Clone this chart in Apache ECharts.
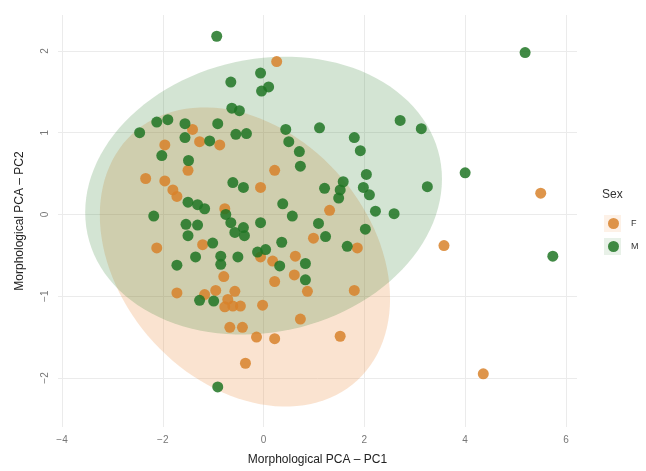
<!DOCTYPE html>
<html>
<head>
<meta charset="utf-8">
<title>Morphological PCA</title>
<script src="https://cdn.jsdelivr.net/npm/echarts@6/dist/echarts.min.js"></script>
<style>
html, body { margin: 0; padding: 0; background: #fff; }
#chart { width: 646px; height: 471px; }
</style>
</head>
<body>
<div id="chart"></div>
<script>
const xTicks = [-4, -2, 0, 2, 4, 6];
const yTicks = [-2, -1, 0, 1, 2];
const sexes = ['F', 'M'];

// [PC1, PC2]
const pointsF = [
  [0.26, 1.87], [-1.41, 1.04], [-1.27, 0.89], [-0.87, 0.85], [-1.96, 0.85],
  [-1.50, 0.54], [0.22, 0.54], [-2.34, 0.44], [-1.96, 0.41], [-1.80, 0.30],
  [-1.72, 0.22], [-0.06, 0.33], [-0.77, 0.07], [1.31, 0.05], [0.99, -0.29],
  [1.86, -0.41], [3.58, -0.38], [5.50, 0.26], [-1.21, -0.37], [-2.12, -0.41],
  [-0.06, -0.52], [0.18, -0.57], [0.63, -0.51], [-0.79, -0.76], [0.22, -0.82],
  [0.61, -0.74], [0.87, -0.94], [1.80, -0.93], [-1.72, -0.96], [-0.95, -0.93],
  [-1.17, -0.98], [-0.57, -0.94], [-0.71, -1.04], [-0.77, -1.13], [-0.61, -1.12],
  [-0.46, -1.12], [-0.02, -1.11], [0.73, -1.28], [-0.67, -1.38], [-0.42, -1.38],
  [-0.14, -1.50], [0.22, -1.52], [1.52, -1.49], [-0.36, -1.82], [4.36, -1.95]
];
const pointsM = [
  [-0.93, 2.18], [5.19, 1.98], [-0.06, 1.73], [-0.65, 1.62], [-0.04, 1.51],
  [0.10, 1.56], [-0.63, 1.30], [-0.48, 1.27], [-2.12, 1.13], [-1.90, 1.16],
  [-1.56, 1.11], [-0.91, 1.11], [-2.46, 1.00], [-1.56, 0.94], [-1.07, 0.90],
  [-0.55, 0.98], [-0.34, 0.99], [0.44, 1.04], [1.11, 1.06], [0.50, 0.89],
  [0.71, 0.77], [-2.02, 0.72], [-1.49, 0.66], [0.73, 0.59], [1.80, 0.94],
  [1.92, 0.78], [2.71, 1.15], [3.13, 1.05], [4.00, 0.51], [2.04, 0.49],
  [1.58, 0.40], [1.52, 0.30], [1.49, 0.20], [1.21, 0.32], [1.98, 0.33],
  [2.10, 0.24], [3.25, 0.34], [2.22, 0.04], [2.59, 0.01], [-0.61, 0.39],
  [-0.40, 0.33], [0.38, 0.13], [0.57, -0.02], [-1.50, 0.15], [-1.31, 0.12],
  [-1.17, 0.07], [-2.18, -0.02], [-0.75, 0.00], [-0.06, -0.10], [1.09, -0.11],
  [-1.54, -0.12], [-1.31, -0.13], [-1.50, -0.26], [-0.65, -0.10], [-0.57, -0.22],
  [-0.40, -0.16], [-0.38, -0.26], [2.02, -0.18], [1.23, -0.27], [0.36, -0.34],
  [1.66, -0.39], [-1.01, -0.35], [-0.85, -0.51], [-0.85, -0.61], [-1.35, -0.52],
  [-1.72, -0.62], [-0.51, -0.52], [-0.12, -0.46], [0.04, -0.43], [0.32, -0.63],
  [0.83, -0.60], [0.83, -0.80], [5.74, -0.51], [-1.27, -1.05], [-0.99, -1.06],
  [-0.91, -2.11]
];

// ellipse: centre x, centre y, half range x, half range y, tilt
const ellipseF = [-0.37, -0.52, 2.88, 1.83, -0.28];
const ellipseM = [0.0, 0.23, 3.54, 1.70, 0.12];

const colF = 'rgb(216,130,44)';
const colM = 'rgb(32,118,36)';
const fillF = 'rgba(236,140,60,0.24)';
const fillM = 'rgba(34,120,34,0.2)';

function ellipseRender(e, fill) {
  return function (params, api) {
    let pts = [];
    for (let i = 0; i < 120; i++) {
      let t = i / 120 * Math.PI * 2;
      let x = e[0] + e[2] * Math.cos(t);
      let y = e[1] + e[3] * (e[4] * Math.cos(t) + Math.sqrt(1 - e[4] * e[4]) * Math.sin(t));
      pts.push(api.coord([x, y]));
    }
    return {
      type: 'polygon',
      shape: { points: pts },
      style: { fill: fill }
    };
  };
}

function minusLabel(v) {
  return String(v).replace('-', '\u2212');
}

const chart = echarts.init(document.getElementById('chart'));
chart.setOption({
  animation: false,
  textStyle: { fontFamily: 'Liberation Sans' },
  grid: { left: 58, right: 69, top: 15, bottom: 43 },
  xAxis: {
    type: 'value',
    min: -4.08,
    max: 6.22,
    name: 'Morphological PCA – PC1',
    nameLocation: 'middle',
    nameGap: 27,
    nameTextStyle: { fontSize: 12, color: '#222' },
    axisLine: { show: false },
    axisTick: { show: false, customValues: xTicks },
    axisLabel: { customValues: xTicks, color: '#777', fontSize: 10, margin: 8, formatter: minusLabel },
    splitLine: { lineStyle: { color: '#ebebeb', width: 1 } }
  },
  yAxis: {
    type: 'value',
    min: -2.6,
    max: 2.44,
    name: 'Morphological PCA – PC2',
    nameLocation: 'middle',
    nameGap: 32,
    nameTextStyle: { fontSize: 12, color: '#222' },
    axisLine: { show: false },
    axisTick: { show: false, customValues: yTicks },
    axisLabel: { customValues: yTicks, color: '#777', fontSize: 10, margin: 8, rotate: 90, formatter: minusLabel },
    splitLine: { lineStyle: { color: '#ebebeb', width: 1 } }
  },
  legend: {
    data: sexes,
    orient: 'vertical',
    left: 603,
    top: 213,
    itemWidth: 17,
    itemHeight: 11,
    itemGap: 12,
    icon: 'circle',
    textStyle: { fontSize: 9, color: '#333', padding: [0, 0, 0, 4] }
  },
  graphic: [
    { type: 'rect', left: 604, top: 215, shape: { width: 17, height: 17 }, style: { fill: 'rgba(236,140,60,0.12)' }, z: 1 },
    { type: 'rect', left: 604, top: 238, shape: { width: 17, height: 17 }, style: { fill: 'rgba(34,120,34,0.1)' }, z: 1 },
    { type: 'text', left: 602, top: 189, style: { text: 'Sex', fontSize: 12, fill: '#333', fontFamily: 'Liberation Sans' } }
  ],
  series: [
    {
      type: 'custom',
      name: 'ellipseF',
      renderItem: ellipseRender(ellipseF, fillF),
      data: [[ellipseF[0], ellipseF[1]]],
      clip: true,
      silent: true,
      z: 1
    },
    {
      type: 'custom',
      name: 'ellipseM',
      renderItem: ellipseRender(ellipseM, fillM),
      data: [[ellipseM[0], ellipseM[1]]],
      clip: true,
      silent: true,
      z: 1
    },
    {
      type: 'scatter',
      name: 'F',
      data: pointsF,
      symbolSize: 11,
      itemStyle: { color: colF, opacity: 0.85 },
      z: 3
    },
    {
      type: 'scatter',
      name: 'M',
      data: pointsM,
      symbolSize: 11,
      itemStyle: { color: colM, opacity: 0.85 },
      z: 3
    }
  ]
});
</script>
</body>
</html>
